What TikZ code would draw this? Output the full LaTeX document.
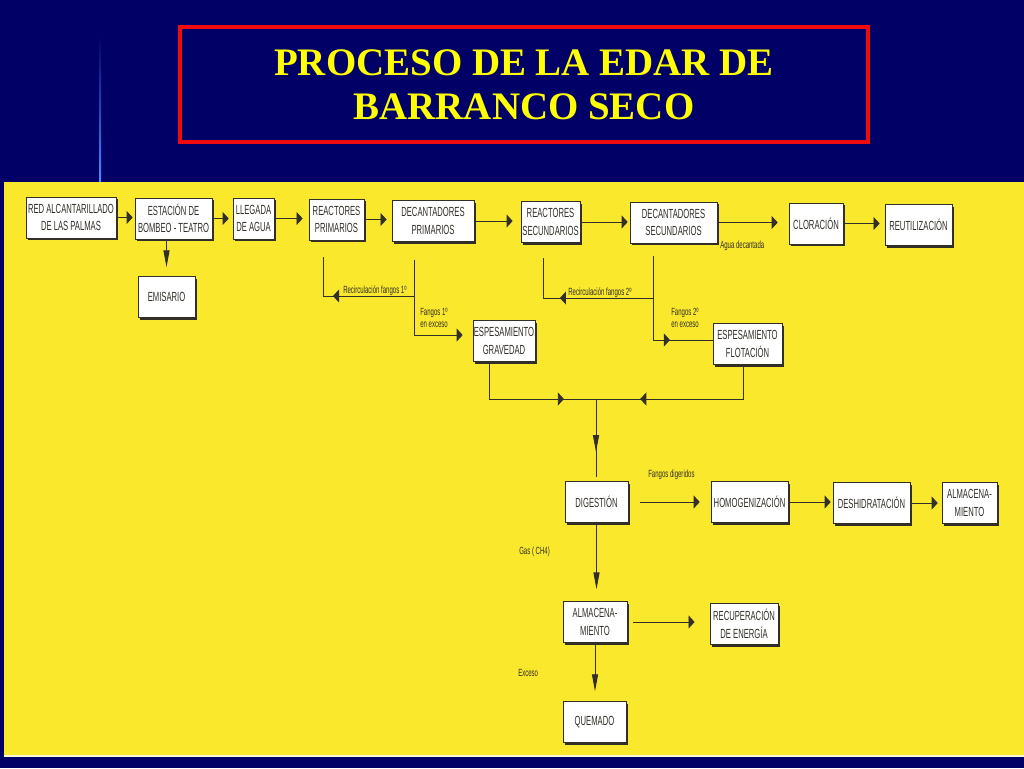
\documentclass[tikz,border=0pt]{standalone}
\usepackage{fontspec}
\setmainfont{Liberation Sans}
\newfontfamily\condfont{Liberation Sans}[FakeStretch=0.58]
\newfontfamily\titlefont{Liberation Serif}
\usetikzlibrary{arrows.meta,decorations.markings,shadows,positioning}
\definecolor{navy}{RGB}{0,0,102}
\definecolor{paper}{RGB}{250,232,45}
\definecolor{ink}{RGB}{50,47,40}
\definecolor{titleyellow}{RGB}{255,255,0}
\definecolor{framered}{RGB}{240,12,12}
\definecolor{glow}{RGB}{80,140,255}
\tikzset{
	harr/.tip={Triangle[length=4.3pt,width=9.2pt]},
	varr/.tip={Triangle[length=12pt,width=4.3pt]},
	proc/.style={draw=ink, fill=white, line width=0.5pt, text=ink, inner sep=0pt,
		align=center, minimum height=10.25mm, font=\condfont\fontsize{9.4}{12.4}\selectfont,
		drop shadow={shadow xshift=1.3pt, shadow yshift=-1.5pt, fill=ink, opacity=1}},
	flow/.style={draw=ink, line width=0.6pt},
	note/.style={text=ink, inner sep=0pt, align=left, font=\condfont\fontsize{7.4}{8.2}\selectfont},
	midh/.style={postaction={decorate}, decoration={markings, mark=at position #1 with {\arrow{harr}}}},
	midv/.style={postaction={decorate}, decoration={markings, mark=at position #1 with {\arrow{varr}}}}
}
\begin{document}
\begin{tikzpicture}[x=0.25mm, y=-0.25mm]
	\useasboundingbox (0,0) rectangle (1024,768);
	\fill[navy] (0,0) rectangle (1024,768);
	\shade[top color=navy, bottom color=glow] (99,35) rectangle (101,182);
	\fill[paper] (4,182) rectangle (1024,755);
	\fill[white!80!paper] (4,755) rectangle (1024,757);

	\node[draw=framered, line width=3.2pt, minimum width=172mm, minimum height=28.75mm,
		text=titleyellow, align=center, font=\titlefont\bfseries\fontsize{27.7}{31.3}\selectfont]
		(title) at (524,84.5) {PROCESO DE LA EDAR DE\\BARRANCO SECO};

	% linea de agua
	\node[proc, minimum width=22.5mm] (red) at (71,217.5) {RED ALCANTARILLADO\\DE LAS PALMAS};
	\node[proc, minimum width=19.25mm] (bomb) at (173.5,218.5) {ESTACIÓN DE\\BOMBEO - TEATRO};
	\node[proc, minimum width=10.25mm] (lleg) at (253.5,218.5) {LLEGADA\\DE AGUA};
	\node[proc, minimum width=13.75mm] (rpri) at (336.5,219.5) {REACTORES\\PRIMARIOS};
	\node[proc, minimum width=20.5mm] (dpri) at (433,221) {DECANTADORES\\PRIMARIOS};
	\node[proc, minimum width=14.75mm] (rsec) at (550.5,222) {REACTORES\\SECUNDARIOS};
	\node[proc, minimum width=21.75mm] (dsec) at (673.5,222.5) {DECANTADORES\\SECUNDARIOS};
	\node[proc, minimum width=13.5mm] (clor) at (816,223.5) {CLORACIÓN};
	\node[proc, minimum width=16.75mm] (reut) at (918.5,225) {REUTILIZACIÓN};
	\node[proc, minimum width=14.25mm] (emis) at (166.5,297) {EMISARIO};

	% linea de fangos
	\node[proc, minimum width=15.5mm] (grav) at (504,341) {ESPESAMIENTO\\GRAVEDAD};
	\node[proc, minimum width=17.25mm] (flot) at (747.5,344) {ESPESAMIENTO\\FLOTACIÓN};
	\node[proc, minimum width=15.75mm] (dig) at (596.5,502) {DIGESTIÓN};
	\node[proc, minimum width=19.25mm] (homo) at (749.5,502) {HOMOGENIZACIÓN};
	\node[proc, minimum width=19.25mm] (desh) at (871.5,503) {DESHIDRATACIÓN};
	\node[proc, minimum width=13.75mm] (almf) at (969.5,503) {ALMACENA-\\MIENTO};

	% linea de gas
	\node[proc, minimum width=16mm] (almg) at (595,622) {ALMACENA-\\MIENTO};
	\node[proc, minimum width=17mm] (recu) at (744,624) {RECUPERACIÓN\\DE ENERGÍA};
	\node[proc, minimum width=15.75mm] (quem) at (594.5,722) {QUEMADO};

	\coordinate (p1top) at (414,260);
	\coordinate (p1split) at (414,296);
	\coordinate (p1turn) at (323,296);
	\coordinate (p1end) at (323,257);
	\coordinate (p1foot) at (414,335);
	\coordinate (p2top) at (653,256);
	\coordinate (p2split) at (653,298);
	\coordinate (p2turn) at (543,298);
	\coordinate (p2end) at (543,258);
	\coordinate (p2foot) at (653,340);
	\coordinate (gfoot) at (489,399);
	\coordinate (ffoot) at (743,399);
	\coordinate (jn) at (596,399);
	\coordinate (jnlow) at (596,477);

	\draw[flow, -harr, shorten >=1.4pt] (red.east) -- (red.east -| bomb.west);
	\draw[flow, -harr, shorten >=2.8pt] (bomb.east) -- (bomb.east -| lleg.west);
	\draw[flow, -harr, shorten >=4.3pt] (lleg.east) -- (lleg.east -| rpri.west);
	\draw[flow, -harr, shorten >=3.6pt] (rpri.east) -- (rpri.east -| dpri.west);
	\draw[flow, -harr, shorten >=5.7pt] (dpri.east) -- (dpri.east -| rsec.west);
	\draw[flow, -harr, shorten >=1.4pt] (rsec.east) -- (rsec.east -| dsec.west);
	\draw[flow, -harr, shorten >=7.8pt] (dsec.east) -- (dsec.east -| clor.west);
	\draw[flow, -harr, shorten >=3.6pt] (clor.east) -- (clor.east -| reut.west);
	\draw[flow, -varr, shorten >=6.4pt] (emis.north |- bomb.south) -- (emis.north);

	\draw[flow, -harr, shorten >=7.1pt] (p1top) -- (p1foot) -- (p1foot -| grav.west);
	\draw[flow, midh=57.6pt] (p1split) -- (p1turn) -- (p1end);
	\draw[flow, midh=71.8pt] (p2top) -- (p2foot) -- (p2foot -| flot.west);
	\draw[flow, midh=66.2pt] (p2split) -- (p2turn) -- (p2end);

	\draw[flow, midh=79.7pt] (gfoot |- grav.south) -- (gfoot) -- (jn);
	\draw[flow, midh=97.4pt] (ffoot |- flot.south) -- (ffoot) -- (jn);
	\draw[flow, midv=37.7pt] (jn) -- (jnlow);

	\draw[flow, -harr, shorten <=8.5pt, shorten >=7.8pt] (dig.east) -- (dig.east -| homo.west);
	\draw[flow, -harr, shorten >=1.4pt] (homo.east) -- (homo.east -| desh.west);
	\draw[flow, -harr, shorten >=2.8pt] (desh.east) -- (desh.east -| almf.west);
	\draw[flow, -varr, shorten >=8.5pt] (dig.south) -- (dig.south |- almg.north);
	\draw[flow, -harr, shorten <=4.3pt, shorten >=10.7pt] (almg.east) -- (almg.east -| recu.west);
	\draw[flow, -varr, shorten >=7.1pt] (almg.south) -- (almg.south |- quem.north);

	\node[note, anchor=base west] (rec1) at (343,293) {Recirculación fangos 1º};
	\node[note, anchor=north west] (exc1) at (420,308) {Fangos 1º\\en exceso};
	\node[note, anchor=base west] (rec2) at (568,295) {Recirculación fangos 2º};
	\node[note, anchor=north west] (exc2) at (671,308) {Fangos 2º\\en exceso};
	\node[note, anchor=base west] (agua) at (720,248) {Agua decantada};
	\node[note, anchor=base west] (fdig) at (648,477) {Fangos digeridos};
	\node[note, anchor=base west] (gas) at (519,554) {Gas ( CH4)};
	\node[note, anchor=base west] (exceso) at (518,676) {Exceso};
\end{tikzpicture}
\end{document}
